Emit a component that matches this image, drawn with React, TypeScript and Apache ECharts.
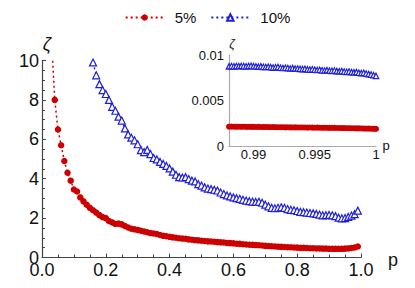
import React, { useEffect, useRef } from "react";
import * as echarts from "echarts";

// Main chart: sampling probability p (step 0.01)
const pGrid = [
  0.03, 0.04, 0.05, 0.06, 0.07, 0.08, 0.09,
  0.10, 0.11, 0.12, 0.13, 0.14, 0.15, 0.16, 0.17, 0.18, 0.19,
  0.20, 0.21, 0.22, 0.23, 0.24, 0.25, 0.26, 0.27, 0.28, 0.29,
  0.30, 0.31, 0.32, 0.33, 0.34, 0.35, 0.36, 0.37, 0.38, 0.39,
  0.40, 0.41, 0.42, 0.43, 0.44, 0.45, 0.46, 0.47, 0.48, 0.49,
  0.50, 0.51, 0.52, 0.53, 0.54, 0.55, 0.56, 0.57, 0.58, 0.59,
  0.60, 0.61, 0.62, 0.63, 0.64, 0.65, 0.66, 0.67, 0.68, 0.69,
  0.70, 0.71, 0.72, 0.73, 0.74, 0.75, 0.76, 0.77, 0.78, 0.79,
  0.80, 0.81, 0.82, 0.83, 0.84, 0.85, 0.86, 0.87, 0.88, 0.89,
  0.90, 0.91, 0.92, 0.93, 0.94, 0.95, 0.96, 0.97, 0.98, 0.99,
];

// ζ for 5% (starts at p = 0.03)
const zeta5 = [
  11.0, 8.0, 6.5, 5.7, 4.9, 4.3, 3.9,
  3.45, 3.35, 3.05, 2.85, 2.68, 2.52, 2.40, 2.28, 2.15, 2.05,
  2.00, 1.85, 1.78, 1.70, 1.72, 1.68, 1.60, 1.52, 1.46, 1.43,
  1.40, 1.36, 1.32, 1.28, 1.24, 1.22, 1.19, 1.14, 1.10, 1.08,
  1.05, 1.02, 1.00, 0.98, 0.96, 0.95, 0.92, 0.90, 0.88, 0.87,
  0.85, 0.84, 0.82, 0.81, 0.80, 0.78, 0.77, 0.76, 0.74, 0.73,
  0.72, 0.70, 0.69, 0.67, 0.66, 0.65, 0.64, 0.63, 0.62, 0.61,
  0.59, 0.58, 0.57, 0.56, 0.55, 0.54, 0.53, 0.52, 0.52, 0.51,
  0.50, 0.49, 0.49, 0.48, 0.47, 0.47, 0.46, 0.46, 0.45, 0.45,
  0.44, 0.44, 0.44, 0.44, 0.44, 0.45, 0.46, 0.48, 0.51, 0.56,
];

// ζ for 10% (starts at p = 0.16)
const zeta10Start = 0.16;
const zeta10 = [
  9.90, 9.25, 8.80, 8.50,
  8.30, 8.00, 7.65, 7.45, 7.15, 6.95, 6.55, 6.25, 6.08, 5.95,
  5.75, 5.45, 5.35, 5.46, 5.25, 5.05, 4.98, 4.85, 4.75, 4.65,
  4.52, 4.36, 4.20, 4.08, 4.06, 4.08, 3.98, 3.90, 3.86, 3.72,
  3.65, 3.56, 3.50, 3.47, 3.44, 3.40, 3.30, 3.22, 3.15, 3.10,
  3.05, 3.01, 2.98, 2.93, 2.89, 2.86, 2.84, 2.82, 2.83, 2.78,
  2.68, 2.60, 2.52, 2.50, 2.52, 2.55, 2.52, 2.46, 2.42, 2.40,
  2.36, 2.32, 2.30, 2.28, 2.26, 2.24, 2.21, 2.18, 2.14, 2.15,
  2.16, 2.14, 2.10, 2.02, 1.99, 2.00, 2.06, 2.13, 2.20, 2.38,
];

// Inset: p close to 1
const pInset = [
  0.988, 0.9882, 0.9884, 0.9886, 0.9888, 0.989, 0.9892, 0.9894, 0.9896, 0.9898,
  0.99, 0.9902, 0.9904, 0.9906, 0.9908, 0.991, 0.9912, 0.9914, 0.9916, 0.9918,
  0.992, 0.9922, 0.9924, 0.9926, 0.9928, 0.993, 0.9932, 0.9934, 0.9936, 0.9938,
  0.994, 0.9942, 0.9944, 0.9946, 0.9948, 0.995, 0.9952, 0.9954, 0.9956, 0.9958,
  0.996, 0.9962, 0.9964, 0.9966, 0.9968, 0.997, 0.9972, 0.9974, 0.9976, 0.9978,
  0.998, 0.9982, 0.9984, 0.9986, 0.9988, 0.999, 0.9992, 0.9994, 0.9996, 0.9998,
  1.0,
];
const insetZeta5 = [
  0.00212, 0.00213, 0.00212, 0.00211, 0.00212, 0.00211, 0.00212, 0.0021, 0.00211, 0.0021,
  0.0021, 0.00209, 0.0021, 0.00209, 0.00208, 0.00209, 0.00208, 0.00207, 0.00208, 0.00207,
  0.00206, 0.00207, 0.00206, 0.00205, 0.00206, 0.00205, 0.00204, 0.00205, 0.00204, 0.00203,
  0.00204, 0.00203, 0.00202, 0.00203, 0.00202, 0.00201, 0.00202, 0.00201, 0.002, 0.00201,
  0.002, 0.00199, 0.002, 0.00199, 0.00198, 0.00198, 0.00197, 0.00197, 0.00196, 0.00196,
  0.00195, 0.00195, 0.00194, 0.00194, 0.00193, 0.00192, 0.00192, 0.00191, 0.0019, 0.00189,
  0.00188,
];
const insetZeta10 = [
  0.00875, 0.00878, 0.00876, 0.00879, 0.00877, 0.0088, 0.00878, 0.00876, 0.00879, 0.00881,
  0.00877, 0.00874, 0.00872, 0.00875, 0.0087, 0.00868, 0.00871, 0.00866, 0.00862, 0.00865,
  0.00868, 0.0086, 0.00857, 0.0086, 0.00856, 0.00852, 0.00855, 0.0085, 0.00852, 0.00848,
  0.00845, 0.00848, 0.00842, 0.0084, 0.00843, 0.00838, 0.00835, 0.00838, 0.00832, 0.0083,
  0.00833, 0.00828, 0.00826, 0.00829, 0.00823, 0.0082, 0.00824, 0.00818, 0.00815, 0.00818,
  0.00812, 0.00809, 0.00812, 0.00805, 0.00801, 0.00804, 0.00796, 0.0079, 0.00785, 0.00778,
  0.0077,
];

const mainXTicks = [0, 1, 0.2];
const mainYTicks = [0, 10, 2];
const insetXLabels = [0.99, 0.995, 1];
const insetYTicks = [0, 0.01, 0.005];

const RED = "#cc0000";
const BLUE = "#1f1fd8";
const FONT = "Liberation Sans, Arial, sans-serif";
const TXT = "#111";

export default function App() {
  const ref = useRef<HTMLDivElement>(null);

  useEffect(() => {
    if (!ref.current) return;
    const chart = echarts.init(ref.current, undefined, { renderer: "svg" });

    const startIdx10 = pGrid.findIndex((p) => Math.abs(p - zeta10Start) < 1e-9);
    const redMain = pGrid.map((p, i) => [p, zeta5[i]]);
    const blueMain = zeta10.map((v, i) => [pGrid[startIdx10 + i], v]);
    const redInset = pInset.map((p, i) => [p, insetZeta5[i]]);
    const blueInset = pInset.map((p, i) => [p, insetZeta10[i]]);

    const redStyle = {
      symbol: "circle",
      itemStyle: { color: RED },
      lineStyle: { color: RED, width: 1.5, type: [2, 3] },
    };
    const blueStyle = {
      symbol: "triangle",
      itemStyle: { color: "#ffffff", borderColor: BLUE, borderWidth: 1.2 },
      lineStyle: { color: BLUE, width: 1.5, type: [2, 3] },
    };

    const axisCol = "#444";
    const insetCol = "#aaaaaa";

    chart.setOption({
      animation: false,
      textStyle: { fontFamily: FONT },
      legend: {
        top: 5,
        left: "center",
        itemWidth: 38,
        itemHeight: 8,
        itemGap: 14,
        textStyle: { fontSize: 15, color: TXT, fontFamily: FONT, padding: [0, 0, 0, 6] },
        data: ["5%", "10%"],
      },
      grid: [
        { left: 42, top: 60.5, width: 319, height: 197 },
        { left: 229, top: 55, width: 147, height: 91 },
      ],
      xAxis: [
        {
          type: "value",
          gridIndex: 0,
          min: mainXTicks[0],
          max: mainXTicks[1],
          interval: mainXTicks[2],
          axisLine: { show: true, onZero: false, lineStyle: { color: axisCol, width: 1.2 } },
          axisTick: { show: true, inside: true, length: 4, lineStyle: { color: axisCol } },
          minorTick: { show: true, splitNumber: 4, length: 3, lineStyle: { color: axisCol } },
          splitLine: { show: false },
          axisLabel: {
            fontSize: 18,
            color: TXT,
            margin: 3,
            fontFamily: FONT,
            formatter: (v: number) => v.toFixed(1),
          },
        },
        {
          type: "value",
          gridIndex: 1,
          min: 0.988,
          max: 1,
          axisLine: { show: true, onZero: false, lineStyle: { color: insetCol, width: 1.2 } },
          axisTick: { show: false },
          splitLine: { show: false },
          axisLabel: {
            fontSize: 13,
            color: TXT,
            margin: 2,
            fontFamily: FONT,
            customValues: insetXLabels,
            formatter: (v: number) => String(+v.toFixed(4)),
          },
        },
      ],
      yAxis: [
        {
          type: "value",
          gridIndex: 0,
          min: mainYTicks[0],
          max: mainYTicks[1],
          interval: mainYTicks[2],
          axisLine: { show: true, onZero: false, lineStyle: { color: axisCol, width: 1.2 } },
          axisTick: { show: true, inside: true, length: 4, lineStyle: { color: axisCol } },
          minorTick: { show: true, splitNumber: 4, length: 3, lineStyle: { color: axisCol } },
          splitLine: { show: false },
          axisLabel: { fontSize: 18, color: TXT, margin: 3, fontFamily: FONT },
        },
        {
          type: "value",
          gridIndex: 1,
          min: insetYTicks[0],
          max: insetYTicks[1],
          interval: insetYTicks[2],
          axisLine: { show: true, onZero: false, lineStyle: { color: insetCol, width: 1.2 } },
          axisTick: { show: false },
          splitLine: { show: false },
          axisLabel: {
            fontSize: 13,
            color: TXT,
            margin: 5,
            fontFamily: FONT,
            formatter: (v: number) => String(+v.toFixed(4)),
          },
        },
      ],
      graphic: [
        { type: "text", x: 47, y: 44, style: { text: "ζ", font: "italic 18px " + FONT, fill: TXT, align: "center", verticalAlign: "middle" } },
        { type: "text", x: 393, y: 259.5, style: { text: "p", font: "18px " + FONT, fill: TXT, align: "center", verticalAlign: "middle" } },
        { type: "text", x: 232, y: 44, style: { text: "ζ", font: "italic 12px " + FONT, fill: TXT, align: "center", verticalAlign: "middle" } },
        { type: "text", x: 386, y: 145.5, style: { text: "p", font: "13px " + FONT, fill: TXT, align: "center", verticalAlign: "middle" } },
      ],
      series: [
        { type: "line", name: "5%", xAxisIndex: 0, yAxisIndex: 0, data: redMain, symbolSize: 6.5, clip: true, ...redStyle },
        { type: "line", name: "10%", xAxisIndex: 0, yAxisIndex: 0, data: blueMain, symbolSize: 7, clip: true, ...blueStyle },
        { type: "line", name: "5%", xAxisIndex: 1, yAxisIndex: 1, data: redInset, symbolSize: 6, clip: true, ...redStyle },
        { type: "line", name: "10%", xAxisIndex: 1, yAxisIndex: 1, data: blueInset, symbolSize: 5.5, clip: true, ...blueStyle },
      ],
    });

    return () => chart.dispose();
  }, []);

  return <div ref={ref} style={{ width: 415, height: 288, position: "absolute", left: 0, top: 0 }} />;
}
